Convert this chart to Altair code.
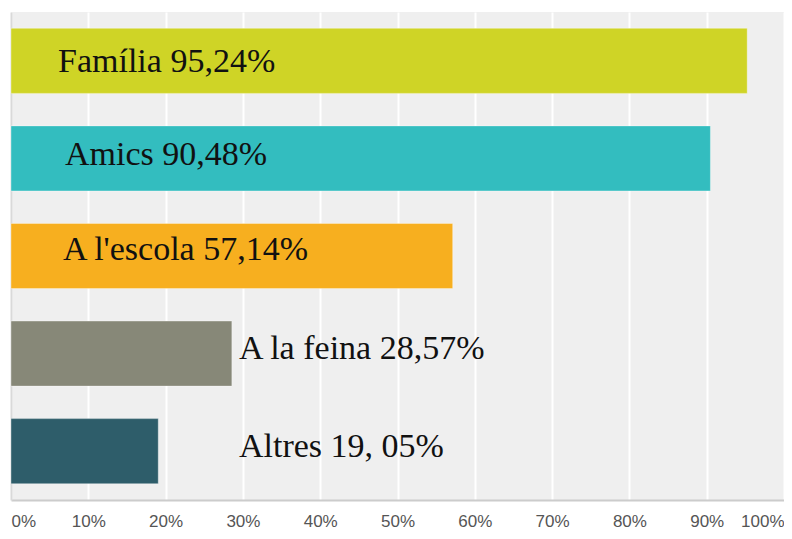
import altair as alt
import pandas as pd

categories = ["Família", "Amics", "A l'escola", "A la feina", "Altres"]
values = [95.24, 90.48, 57.14, 28.57, 19.05]
labels = ["Família 95,24%", "Amics 90,48%", "A l'escola 57,14%", "A la feina 28,57%", "Altres 19, 05%"]
colors = ["#cfd426", "#33bdbf", "#f7af1f", "#878878", "#2e5d6a"]
ticks = [0, 10, 20, 30, 40, 50, 60, 70, 80, 90, 100]

df = pd.DataFrame({"cat": categories, "val": values, "label": labels})

W, H = 773, 488

y_enc = alt.Y("cat:N", sort=categories,
              scale=alt.Scale(paddingInner=0.333, paddingOuter=0.167),
              axis=alt.Axis(title=None, labels=False, ticks=False, grid=False,
                            domain=True, domainColor="#d9d9d9", domainWidth=2))

bars = alt.Chart(df).mark_bar(stroke="#ffffff", strokeOpacity=0.35, strokeWidth=1).encode(
    x=alt.X("val:Q", scale=alt.Scale(domain=[0, 100], nice=False),
            axis=alt.Axis(title=None, values=ticks, labelExpr="datum.value + '%'",
                          grid=True, gridColor="#ffffff", gridWidth=2,
                          ticks=False, domain=True, domainColor="#cccccc", domainWidth=2,
                          labelFlush=True, labelFont="Liberation Sans", labelFontSize=17,
                          labelColor="#555555", labelPadding=13)),
    y=y_enc,
    color=alt.Color("cat:N", scale=alt.Scale(domain=categories, range=colors), legend=None),
)

# label placement (pixels from plot left, baseline shift from band centre)
placement = {
    "Família": (47, 11),
    "Amics": (54, 6.5),
    "A l'escola": (52, 3.5),
    "A la feina": (228, 5.5),
    "Altres": (228, 5.5),
}
text_layers = []
for c in categories:
    px, dy = placement[c]
    text_layers.append(
        alt.Chart(df).transform_filter(alt.datum.cat == c).mark_text(
            align="left", baseline="alphabetic", dy=dy,
            font="Liberation Serif", fontSize=34, color="#111111"
        ).encode(x=alt.value(px), y=alt.Y("cat:N", sort=categories), text="label:N")
    )

chart = alt.layer(bars, *text_layers).properties(
    width=W, height=H,
    autosize=alt.AutoSizeParams(type="none"),
    padding={"left": 3, "top": 4, "right": 0, "bottom": 31},
).configure_view(fill="#efefef", stroke=None)

chart.save("out.html", embed_options={"renderer": "svg", "actions": False})
